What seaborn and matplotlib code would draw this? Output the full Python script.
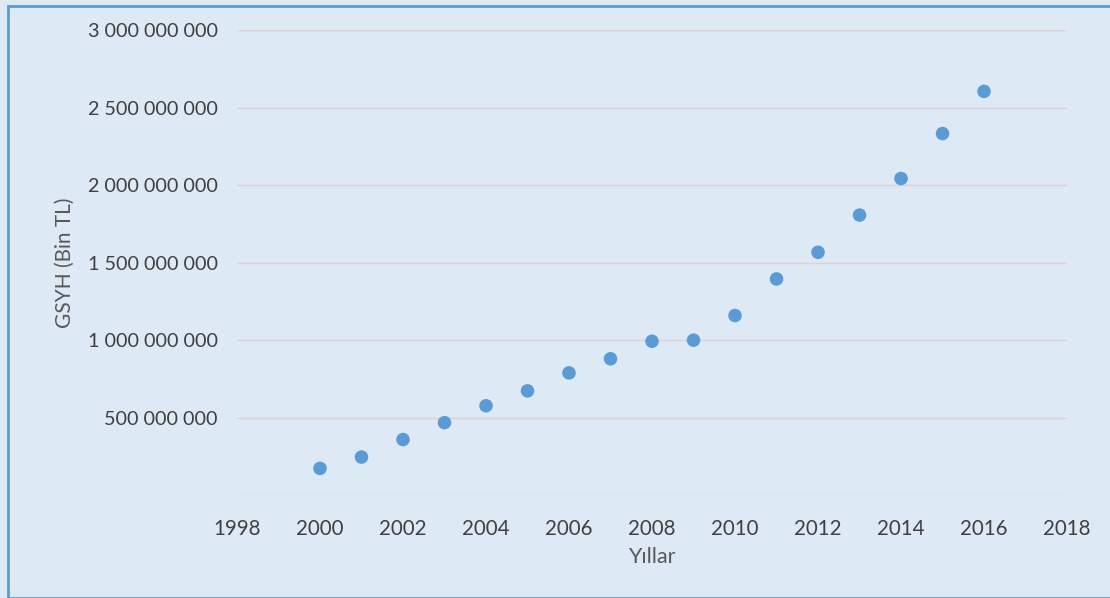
import matplotlib
matplotlib.use("Agg")
import matplotlib.pyplot as plt
import seaborn as sns
import pandas as pd
from matplotlib.ticker import FuncFormatter
from matplotlib.patches import Rectangle

years = [2000, 2001, 2002, 2003, 2004, 2005, 2006, 2007, 2008,
         2009, 2010, 2011, 2012, 2013, 2014, 2015, 2016]
gsyh = [172e6, 245e6, 358e6, 467e6, 576e6, 672e6, 788e6, 879e6, 992e6,
        999e6, 1158e6, 1394e6, 1566e6, 1806e6, 2042e6, 2332e6, 2604e6]
x_ticks = [1998, 2000, 2002, 2004, 2006, 2008, 2010, 2012, 2014, 2016, 2018]
y_ticks = [0, 500e6, 1000e6, 1500e6, 2000e6, 2500e6, 3000e6]

df = pd.DataFrame({"Yıllar": years, "GSYH": gsyh})

sns.set_theme(style="white")
plt.rcParams['font.family'] = ['Lato', 'DejaVu Sans']

bg = "#dde9f5"
fig = plt.figure(figsize=(11.10, 5.98), dpi=100, facecolor=bg)
ax = fig.add_axes([0.2135, 0.1722, 0.9613 - 0.2135, 0.9498 - 0.1722])
ax.set_facecolor(bg)

sns.scatterplot(data=df, x="Yıllar", y="GSYH", ax=ax, color="#5b9bd5",
                s=95, edgecolor="none", zorder=3)

ax.set_xlim(1998, 2018)
ax.set_ylim(0, 3000e6)
ax.set_xticks(x_ticks)
ax.set_yticks(y_ticks)

def yfmt(v, pos):
    if v == 0:
        return ""
    return f"{int(v):,}".replace(",", " ")

ax.yaxis.set_major_formatter(FuncFormatter(yfmt))
ax.grid(axis="y", color="#e0cfd3", linewidth=1.0)
ax.grid(axis="x", visible=False)
for s in ax.spines.values():
    s.set_visible(False)
ax.tick_params(axis="y", length=0, labelsize=14.2, colors="#404040", pad=14)
ax.tick_params(axis="x", length=0, labelsize=14.8, colors="#404040", pad=17)

ax.set_xlabel("Yıllar", fontsize=15.5, color="#595959", labelpad=6)
ax.set_ylabel("GSYH (Bin TL)", fontsize=15, color="#595959", labelpad=9)

fig.patches.append(Rectangle((0.007, 0.0), 0.995, 0.99, transform=fig.transFigure,
                             fill=False, edgecolor="#5b9bd5", linewidth=2.0))

fig.savefig("out.png", dpi=100, facecolor=bg)
